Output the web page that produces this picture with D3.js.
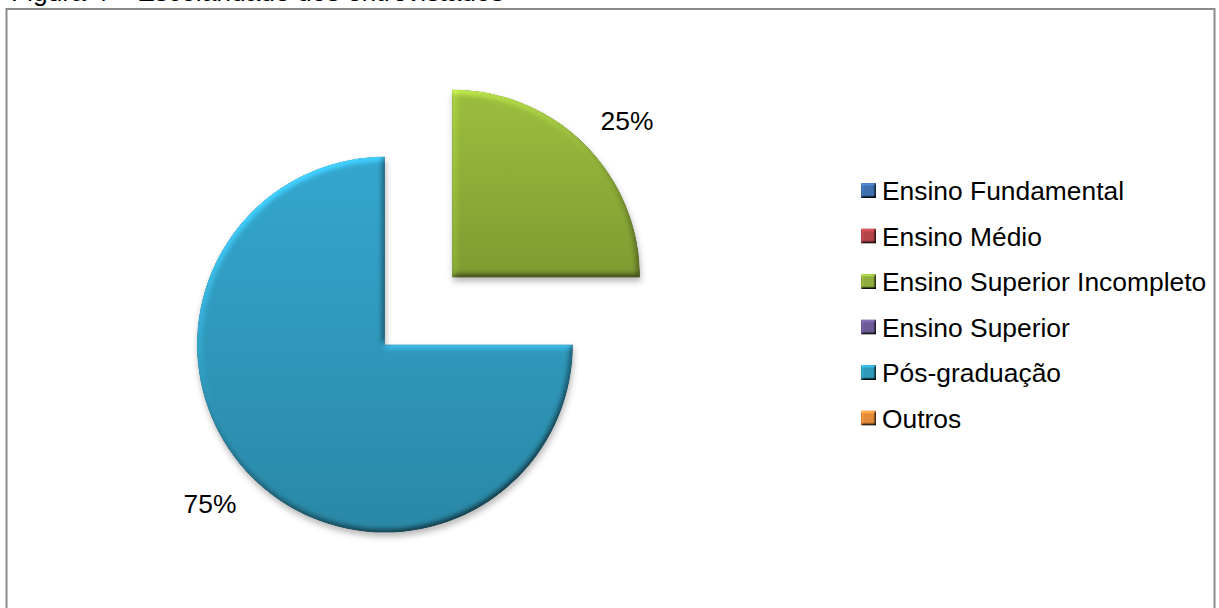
<!DOCTYPE html>
<html>
<head>
<meta charset="utf-8">
<script src="https://cdn.jsdelivr.net/npm/d3@7"></script>
<style>
  html, body { margin: 0; padding: 0; background: #fff; }
  svg { display: block; font-family: "Liberation Sans", Arial, sans-serif; }
</style>
</head>
<body>
<svg id="chart" width="1219" height="608"></svg>
<script>
// Escolaridade dos entrevistados (percentual)
const categories = ["Ensino Fundamental", "Ensino Médio", "Ensino Superior Incompleto",
                    "Ensino Superior", "Pós-graduação", "Outros"];
const values = [0, 0, 25, 0, 75, 0];
const labels = ["0%", "0%", "25%", "0%", "75%", "0%"];
const sliceTop = ["#4f81bd", "#c0504d", "#9cbe3e", "#8064a2", "#34a7cf", "#f79646"];
const sliceBottom = ["#3a659b", "#9c3b3a", "#7e9b31", "#5f4a7e", "#2a88a6", "#d07a30"];
const swatchColors = ["#3f6fae", "#b4444a", "#8dad3d", "#6c5a95", "#2f9bbb", "#e38b3a"];
const title = "Figura 4 – Escolaridade dos entrevistados";

const svg = d3.select("#chart");
const fontSize = 26.4;

const defs = svg.append("defs");

// soft bevel + drop shadow for the slices
function bevelFilter(id, blur, scale, shadow) {
  const f = defs.append("filter").attr("id", id)
    .attr("x", "-15%").attr("y", "-15%").attr("width", "130%").attr("height", "130%")
    .attr("color-interpolation-filters", "sRGB");
  f.append("feGaussianBlur").attr("in", "SourceAlpha").attr("stdDeviation", blur).attr("result", "b");
  const dl = f.append("feDiffuseLighting").attr("in", "b").attr("surfaceScale", scale)
    .attr("diffuseConstant", 1).attr("lighting-color", "#ffffff").attr("result", "light");
  dl.append("feDistantLight").attr("azimuth", 240).attr("elevation", 50);
  f.append("feComposite").attr("in", "SourceGraphic").attr("in2", "light")
    .attr("operator", "arithmetic").attr("k1", 1.305).attr("k2", 0).attr("k3", 0).attr("k4", 0)
    .attr("result", "lit");
  f.append("feComposite").attr("in", "lit").attr("in2", "SourceAlpha").attr("operator", "in").attr("result", "litc");
  if (shadow) {
    f.append("feGaussianBlur").attr("in", "SourceAlpha").attr("stdDeviation", 3).attr("result", "sb");
    f.append("feOffset").attr("in", "sb").attr("dx", 1).attr("dy", 4).attr("result", "so");
    f.append("feFlood").attr("flood-color", "#000").attr("flood-opacity", 0.28).attr("result", "fc");
    f.append("feComposite").attr("in", "fc").attr("in2", "so").attr("operator", "in").attr("result", "sh");
    const m = f.append("feMerge");
    m.append("feMergeNode").attr("in", "sh");
    m.append("feMergeNode").attr("in", "litc");
  }
}
bevelFilter("bevel", 3, 2.2, true);
bevelFilter("bevelSmall", 1.2, 2, false);

categories.forEach((c, i) => {
  const g = defs.append("linearGradient").attr("id", "grad" + i)
    .attr("x1", 0).attr("y1", 0).attr("x2", 0).attr("y2", 1);
  g.append("stop").attr("offset", "0%").attr("stop-color", sliceTop[i]);
  g.append("stop").attr("offset", "100%").attr("stop-color", sliceBottom[i]);
});

// chart frame
svg.append("rect")
  .attr("x", 6.5).attr("y", 9).attr("width", 1208).attr("height", 640)
  .attr("fill", "none").attr("stroke", "#8c8c8c").attr("stroke-width", 2);

// caption above the frame (runs off the top of the page)
svg.append("text")
  .attr("x", 11).attr("y", 1)
  .attr("font-size", fontSize).attr("fill", "#000")
  .text(title);

// pie
const cx = 418.5, cy = 311, radius = 188, explode = 47.5;
const pie = d3.pie().sort(null).value(d => d.value).startAngle(0).endAngle(2 * Math.PI);
const data = categories.map((c, i) => ({ name: c, value: values[i], label: labels[i], i }));
const arcs = pie(data).filter(d => d.value > 0);
const arc = d3.arc().innerRadius(0).outerRadius(radius);

const pieG = svg.append("g").attr("transform", `translate(${cx},${cy})`);

const slices = pieG.selectAll("g.slice").data(arcs).join("g")
  .attr("class", "slice")
  .attr("transform", d => {
    const a = (d.startAngle + d.endAngle) / 2;
    return `translate(${explode * Math.sin(a)},${-explode * Math.cos(a)})`;
  });

slices.append("path")
  .attr("d", arc)
  .attr("fill", d => `url(#grad${d.data.i})`)
  .attr("filter", "url(#bevel)");

// percentage labels just outside each slice
slices.append("text")
  .attr("font-size", fontSize).attr("fill", "#000")
  .each(function (d) {
    const a = (d.startAngle + d.endAngle) / 2;
    const rr = radius + 22;
    const x = rr * Math.sin(a), y = -rr * Math.cos(a);
    d3.select(this)
      .attr("x", x)
      .attr("y", Math.cos(a) > 0 ? y + 1.5 : y + 19.5)
      .attr("text-anchor", Math.sin(a) >= 0 ? "start" : "end")
      .text(d.data.label);
  });

// legend
const legendX = 861, legendY0 = 200, legendStep = 45.5;
const legend = svg.append("g");
const items = legend.selectAll("g").data(data).join("g")
  .attr("transform", (d, k) => `translate(${legendX},${legendY0 + k * legendStep})`);
items.append("rect")
  .attr("x", 0).attr("y", -17).attr("width", 15).attr("height", 15)
  .attr("fill", d => swatchColors[d.i])
  .attr("filter", "url(#bevelSmall)");
items.append("text")
  .attr("x", 21).attr("y", 0)
  .attr("font-size", fontSize).attr("fill", "#000")
  .text(d => d.name);
</script>
</body>
</html>
